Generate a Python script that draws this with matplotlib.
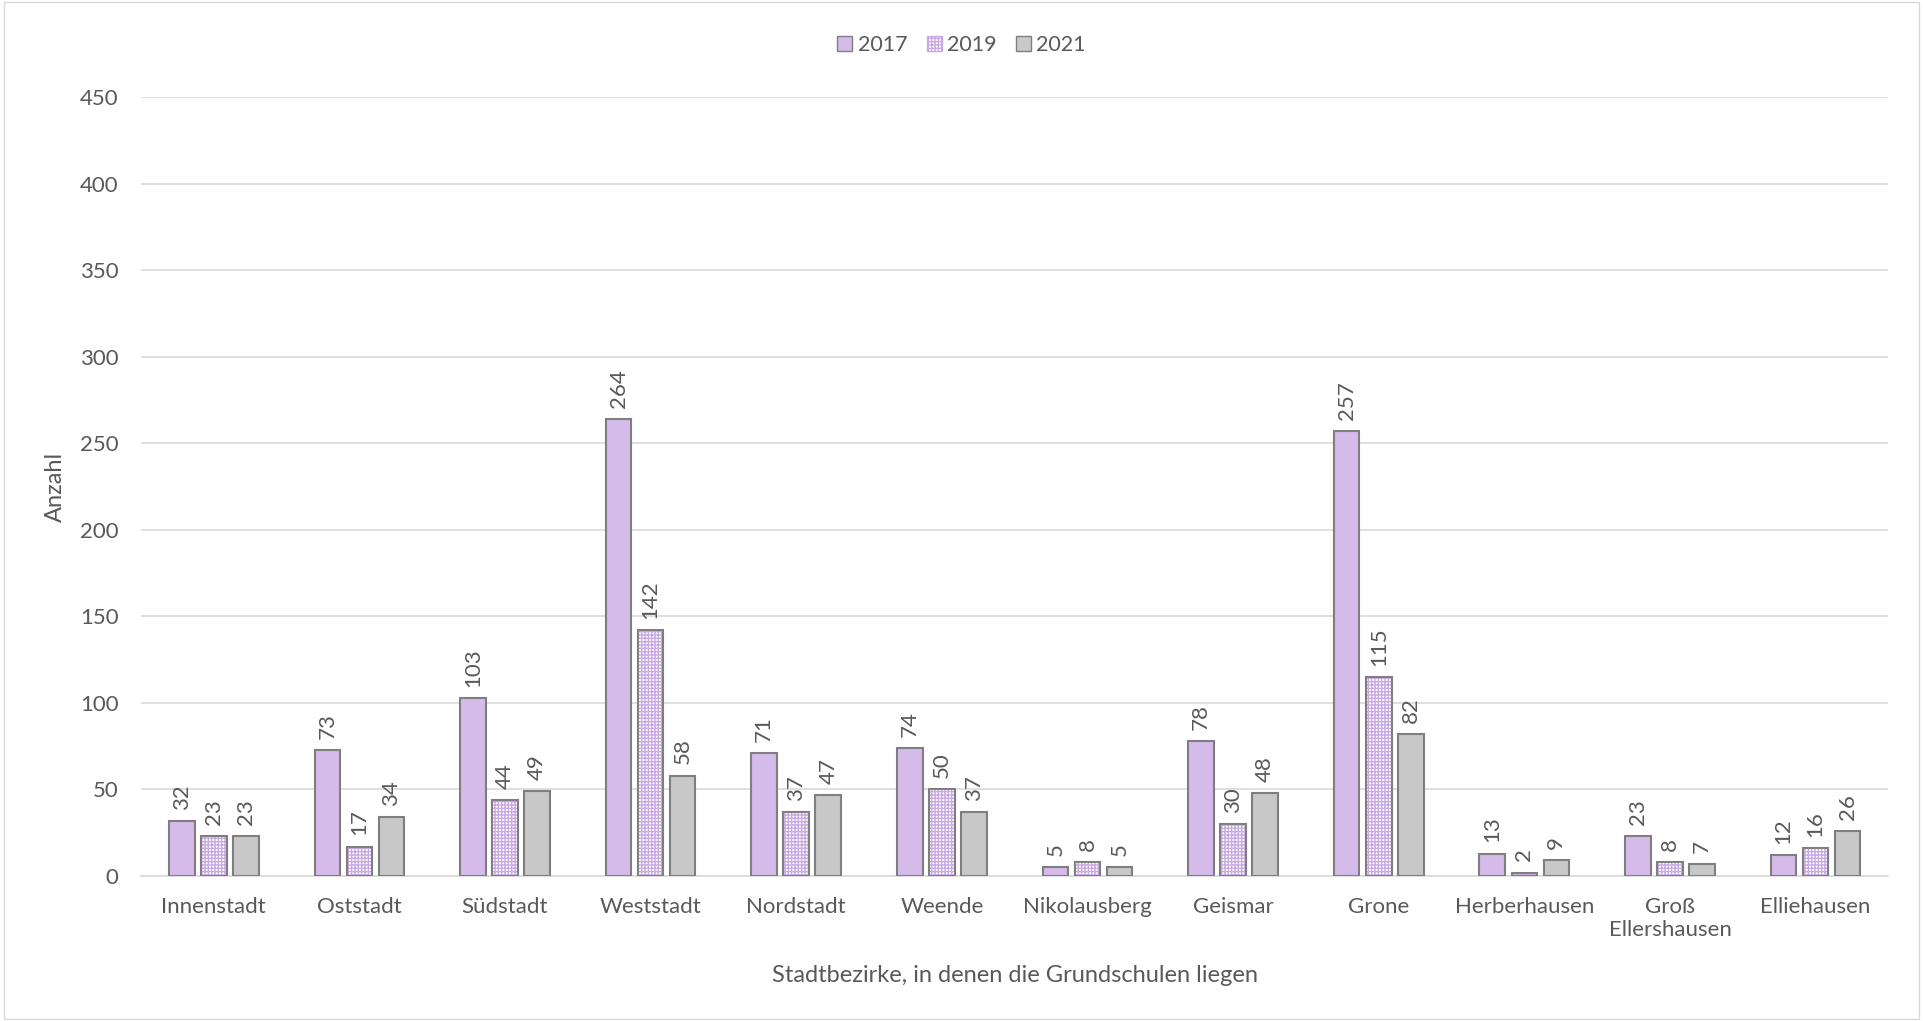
import matplotlib.pyplot as plt
import numpy as np
from matplotlib.patches import Patch

bezirke = ["Innenstadt", "Oststadt", "Südstadt", "Weststadt", "Nordstadt", "Weende",
           "Nikolausberg", "Geismar", "Grone", "Herberhausen", "Groß\nEllershausen", "Elliehausen"]
v2017 = [32, 73, 103, 264, 71, 74, 5, 78, 257, 13, 23, 12]
v2019 = [23, 17, 44, 142, 37, 50, 8, 30, 115, 2, 8, 16]
v2021 = [23, 34, 49, 58, 47, 37, 5, 48, 82, 9, 7, 26]

plt.rcParams['font.family'] = ['Lato', 'DejaVu Sans']
txt = "#595959"
lila = "#D5BBE9"
grau = "#C8C8C8"
rand = "#7F7F7F"
fs = 16

fig = plt.figure(figsize=(19.23, 10.21), dpi=100)
ax = fig.add_axes([0.0733, 0.142, 0.9087, 0.763])
x = np.arange(len(bezirke))
w = 0.176
off = 0.22

b1 = ax.bar(x - off, v2017, w, color=lila, edgecolor=rand, linewidth=1.5, zorder=3)
# 2019: checkerboard pattern, hatch in lilac, then grey outline on top
ax.bar(x, v2019, w, color="white", edgecolor="#C9A9E3", hatch="+++++", linewidth=0, zorder=3)
b2 = ax.bar(x, v2019, w, color="none", edgecolor=rand, linewidth=1.5, zorder=4)
b3 = ax.bar(x + off, v2021, w, color=grau, edgecolor=rand, linewidth=1.5, zorder=3)

for bars, vals in [(b1, v2017), (b2, v2019), (b3, v2021)]:
    for b, v in zip(bars, vals):
        ax.annotate(str(v), (b.get_x() + b.get_width() / 2, v), xytext=(0, 8),
                    textcoords="offset points", rotation=90, ha="center", va="bottom",
                    fontsize=fs, color=txt)

ax.set_xlim(-0.5, len(bezirke) - 0.5)
ax.set_ylim(0, 450)
ax.set_yticks(range(0, 451, 50))
ax.set_xticks(x)
ax.set_xticklabels(bezirke)
ax.tick_params(axis="both", length=0, labelsize=fs, colors=txt, pad=15)
ax.tick_params(axis="y", pad=16)
ax.grid(axis="y", color="#D9D9D9", linewidth=1.2, zorder=0)
for s in ["top", "right", "left"]:
    ax.spines[s].set_visible(False)
ax.spines["bottom"].set_color("#D9D9D9")
ax.spines["bottom"].set_linewidth(1.2)

ax.set_ylabel("Anzahl", fontsize=fs + 1, color=txt, labelpad=10)
ax.set_xlabel("Stadtbezirke, in denen die Grundschulen liegen", fontsize=fs + 1, color=txt, labelpad=18)

handles = [Patch(facecolor=lila, edgecolor=rand, label="2017"),
           Patch(facecolor="white", edgecolor="#C9A9E3", hatch="+++++", label="2019"),
           Patch(facecolor=grau, edgecolor=rand, label="2021")]
fig.legend(handles=handles, loc="center", bbox_to_anchor=(0.5, 0.956), ncol=3, frameon=False,
           fontsize=fs - 0.5, labelcolor=txt, handlelength=0.7, handleheight=0.7,
           handletextpad=0.25, columnspacing=0.9)

fig.patches.append(plt.Rectangle((0.002, 0.002), 0.996, 0.996, transform=fig.transFigure,
                                 fill=False, edgecolor="#D9D9D9", linewidth=1))
fig.savefig("out.png", dpi=100, facecolor="white")
